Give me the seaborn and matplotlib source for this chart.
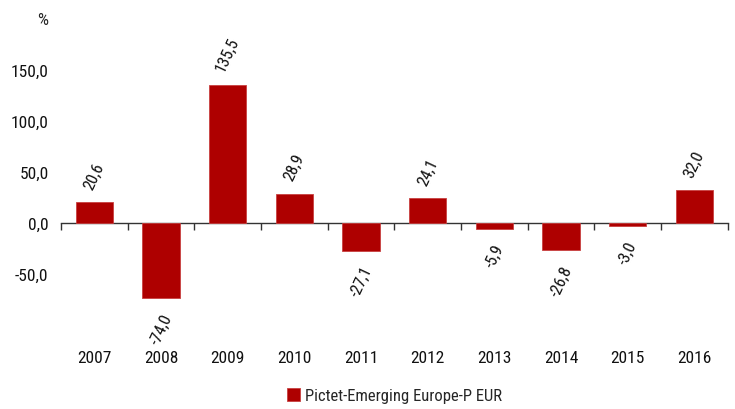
import matplotlib
matplotlib.use("Agg")
import matplotlib.pyplot as plt
from matplotlib import font_manager
import pandas
import seaborn as sns
from pandas import DataFrame

years: list[str] = ["2007", "2008", "2009", "2010", "2011", "2012", "2013", "2014", "2015", "2016"]
returns: list[float] = [20.6, -74.0, 135.5, 28.9, -27.1, 24.1, -5.9, -26.8, -3.0, 32.0]
y_ticks: list[float] = [-50, 0, 50, 100, 150]
series_name: str = "Pictet-Emerging Europe-P EUR"

BAR_COLOR = "#AE0000"


def fmt(v: float) -> str:
    return f"{v:.1f}".replace(".", ",")


def pick_font() -> tuple[str, str]:
    fonts = font_manager.fontManager.ttflist
    names = {f.name for f in fonts}
    for n in ["Liberation Sans Narrow", "Roboto Condensed", "Open Sans Condensed"]:
        if n in names:
            return n, "normal"
    for f in fonts:
        if "condensed" in str(f.stretch) or "Condensed" in f.fname:
            return f.name, "condensed"
    return "DejaVu Sans", "normal"


def plot(df: DataFrame) -> None:
    sns.set_style("white")
    family, stretch = pick_font()
    plt.rcParams["font.family"] = [family, "DejaVu Sans"]
    plt.rcParams["font.stretch"] = stretch

    fig = plt.figure(figsize=(7.35, 4.10), dpi=100)
    ax = fig.add_axes([0.083, 0.205, 0.907, 0.746])

    sns.barplot(data=df, x="year", y="value", color=BAR_COLOR, width=0.56,
                edgecolor="#C84040", linewidth=0.6, saturation=1,
                label=series_name, ax=ax)

    ax.set_ylim(-100, 200)
    ax.set_xlim(-0.5, len(years) - 0.5)
    ax.set_yticks(y_ticks)
    ax.set_yticklabels([fmt(t) for t in y_ticks])
    ax.text(-0.02, 200, "%", transform=ax.get_yaxis_transform(),
            ha="right", va="center", fontsize=12.5)
    ax.set_xlabel("")
    ax.set_ylabel("")
    for s in ax.spines.values():
        s.set_visible(False)
    ax.tick_params(axis="both", length=0, labelsize=12.5, colors="#111111")
    ax.tick_params(axis="y", pad=9)
    ax.tick_params(axis="x", pad=18)

    # zero line with separator ticks
    zero = ax.secondary_xaxis(1 / 3)
    zero.spines["bottom"].set_color("#333333")
    zero.spines["bottom"].set_linewidth(1.0)
    zero.set_xticks([i - 0.5 for i in range(len(years) + 1)])
    zero.tick_params(axis="x", direction="out", length=5, width=1.0,
                     color="#333333", labelbottom=False)

    for i, v in enumerate(df["value"]):
        off = 8 if v >= 0 else -9
        ax.annotate(fmt(v), (i, v), xytext=(0, off), textcoords="offset points",
                    rotation=65, ha="center", va="bottom" if v >= 0 else "top",
                    fontsize=12, color="#111111")

    handles, labels = ax.get_legend_handles_labels()
    if ax.legend_:
        ax.legend_.remove()
    fig.legend(handles[:1], labels[:1], loc="center", bbox_to_anchor=(0.537, 0.032),
               frameon=False, fontsize=12, handlelength=0.8, handleheight=0.8,
               handletextpad=0.3)

    fig.savefig("out.png", dpi=100, facecolor="white")
    plt.close(fig)


def main() -> None:
    df: DataFrame = pandas.DataFrame({"year": years, "value": returns})
    plot(df=df)


if __name__ == "__main__":
    main()
